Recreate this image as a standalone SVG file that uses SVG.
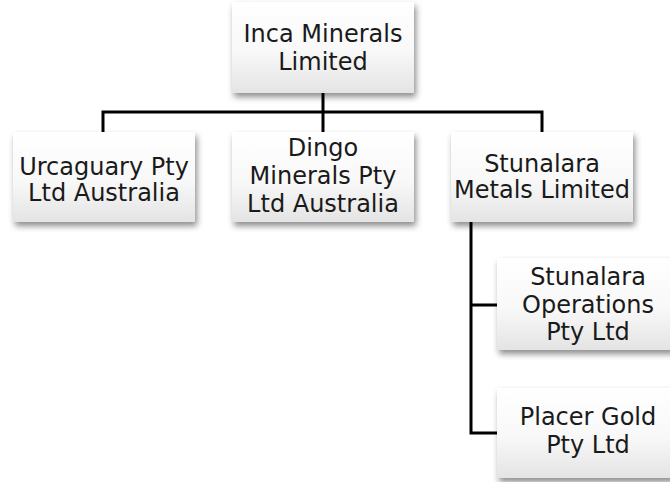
<svg xmlns="http://www.w3.org/2000/svg" width="670" height="482" viewBox="0 0 670 482">
<style>
.box{fill:url(#g);filter:url(#sh);}
.t{font-family:"DejaVu Sans",sans-serif;font-size:24px;fill:#1a1a1a;text-anchor:middle;}
.c{stroke:#000;stroke-width:3;fill:none;}
</style>
<defs>
<linearGradient id="g" x1="0" y1="0" x2="0" y2="1">
<stop offset="0" stop-color="#ffffff"/>
<stop offset="0.55" stop-color="#f8f8f8"/>
<stop offset="1" stop-color="#e4e4e4"/>
</linearGradient>
<filter id="sh" x="-10%" y="-10%" width="125%" height="130%">
<feDropShadow dx="2" dy="4" stdDeviation="3" flood-color="#000" flood-opacity="0.45"/>
</filter>
</defs>
<rect width="670" height="482" fill="#fff"/>
<g id="connectors">
<path class="c" d="M323 93V112M103 132V112H542V132M323 112V132"/>
<path class="c" d="M471 222V433H497M471 305H497"/>
</g>
<g id="inca">
<rect class="box" x="232" y="2" width="182" height="91"/>
<text class="t" x="323" y="42">Inca Minerals</text>
<text class="t" x="323" y="70">Limited</text>
</g>
<g id="urcaguary">
<rect class="box" x="13" y="132" width="182" height="90"/>
<text class="t" x="104" y="175">Urcaguary Pty</text>
<text class="t" x="104" y="201">Ltd Australia</text>
</g>
<g id="dingo">
<rect class="box" x="232" y="132" width="182" height="90"/>
<text class="t" x="323" y="156">Dingo</text>
<text class="t" x="323" y="184">Minerals Pty</text>
<text class="t" x="323" y="212">Ltd Australia</text>
</g>
<g id="stunalara">
<rect class="box" x="451" y="132" width="182" height="90"/>
<text class="t" x="542" y="172">Stunalara</text>
<text class="t" x="542" y="198">Metals Limited</text>
</g>
<g id="operations">
<rect class="box" x="497" y="258" width="182" height="92"/>
<text class="t" x="588" y="285">Stunalara</text>
<text class="t" x="588" y="313">Operations</text>
<text class="t" x="588" y="340">Pty Ltd</text>
</g>
<g id="placer">
<rect class="box" x="497" y="388" width="182" height="90"/>
<text class="t" x="588" y="425">Placer Gold</text>
<text class="t" x="588" y="453">Pty Ltd</text>
</g>
</svg>
